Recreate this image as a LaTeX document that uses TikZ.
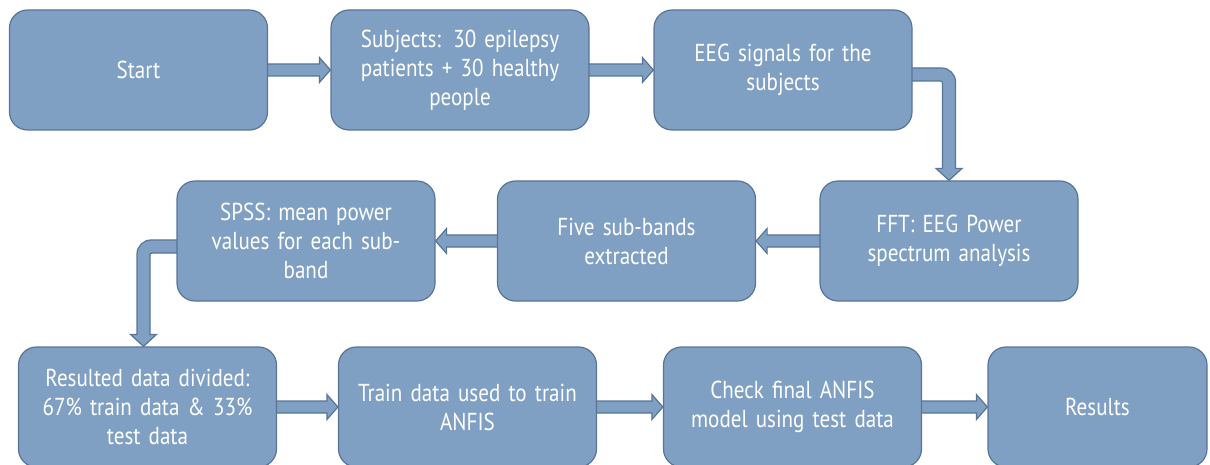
\documentclass[tikz,border=0pt]{standalone}
\usepackage{fontspec}
\setmainfont{PT Sans}[FakeStretch=0.86,WordSpace=0.7]
\usetikzlibrary{calc}
\pgfdeclarelayer{bg}\pgfsetlayers{bg,main}
\definecolor{boxfill}{RGB}{127,159,195}
\definecolor{boxline}{RGB}{88,117,152}
\tikzset{
  flowbox/.style={draw=boxline, fill=boxfill, line width=1.2pt, rounded corners=18pt,
    minimum width=258pt, minimum height=120pt, text width=250pt, align=center,
    text=white, font=\fontsize{24.5}{29}\selectfont, inner sep=0pt},
  barrow/.style={draw=boxline, fill=boxfill, line width=1.2pt, line join=miter}
}
\newcommand\rarrow[2]{%
  \draw[barrow] let \p1=(#1.east), \p2=(#2.west) in
   (\x1-4pt,\y1+6pt) -- (\x2-11pt,\y1+6pt) -- (\x2-11pt,\y1+12.5pt) -- (\x2,\y1)
   -- (\x2-11pt,\y1-12.5pt) -- (\x2-11pt,\y1-6pt) -- (\x1-4pt,\y1-6pt) -- cycle;}
\newcommand\larrow[2]{%
  \draw[barrow] let \p1=(#1.west), \p2=(#2.east) in
   (\x1+4pt,\y1+6pt) -- (\x2+11pt,\y1+6pt) -- (\x2+11pt,\y1+12.5pt) -- (\x2,\y1)
   -- (\x2+11pt,\y1-12.5pt) -- (\x2+11pt,\y1-6pt) -- (\x1+4pt,\y1-6pt) -- cycle;}
\begin{document}
\begin{tikzpicture}[x=1pt,y=-1pt]
\useasboundingbox (0,0) rectangle (1210,465);
\node[flowbox] (start) at (138.5,70) {Start};
\node[flowbox] (subj) at (460,70) {Subjects: 30 epilepsy\\patients + 30 healthy\\people};
\node[flowbox] (eeg) at (783,70) {EEG signals for the\\subjects};
\node[flowbox] (fft) at (949,241) {FFT: EEG Power\\spectrum analysis};
\node[flowbox] (five) at (626.5,241) {Five sub-bands\\extracted};
\node[flowbox] (spss) at (306,241) {SPSS: mean power\\values for each sub-\\band};
\node[flowbox] (res) at (147.5,407) {Resulted data divided:\\67\% train data \& 33\%\\test data};
\node[flowbox] (train) at (467.5,407) {Train data used to train\\ANFIS};
\node[flowbox] (check) at (792.5,407) {Check final ANFIS\\model using test data};
\node[flowbox, minimum width=219pt, text width=210pt] (results) at (1097.5,407) {Results};
\begin{pgfonlayer}{bg}
\rarrow{start}{subj}
\rarrow{subj}{eeg}
\larrow{fft}{five}
\larrow{five}{spss}
\rarrow{res}{train}
\rarrow{train}{check}
\rarrow{check}{results}
% EEG -> FFT elbow
\draw[barrow] let \p1=(eeg.east), \p2=(fft.north) in
  (\x1-4pt,\y1+2pt) -- (\x2+6.5pt-14pt,\y1+2pt)
  arc[start angle=90,end angle=0,radius=14pt]
  -- (\x2+6.5pt,\y2+12pt) -- (\x2+13pt,\y2+12pt) -- (\x2,\y2) -- (\x2-13pt,\y2+12pt)
  -- (\x2-6.5pt,\y2+12pt) -- (\x2-6.5pt,\y1-11pt-2pt)
  arc[start angle=0,end angle=90,radius=2pt]
  -- (\x1-4pt,\y1-11pt) -- cycle;
% SPSS -> Resulted elbow
\draw[barrow] let \p1=(spss.west), \p2=(res.north) in
  (\x1+4pt,\y1+1pt) -- (\x2-6.5pt-4pt+14pt,\y1+1pt)
  arc[start angle=90,end angle=180,radius=14pt]
  -- (\x2-10.5pt,\y2+12pt) -- (\x2-17pt,\y2+12pt) -- (\x2-4pt,\y2) -- (\x2+9pt,\y2+12pt)
  -- (\x2+2.5pt,\y2+12pt) -- (\x2+2.5pt,\y1-12pt-2pt)
  arc[start angle=180,end angle=90,radius=2pt]
  -- (\x1+4pt,\y1-12pt) -- cycle;
\end{pgfonlayer}
\end{tikzpicture}
\end{document}
